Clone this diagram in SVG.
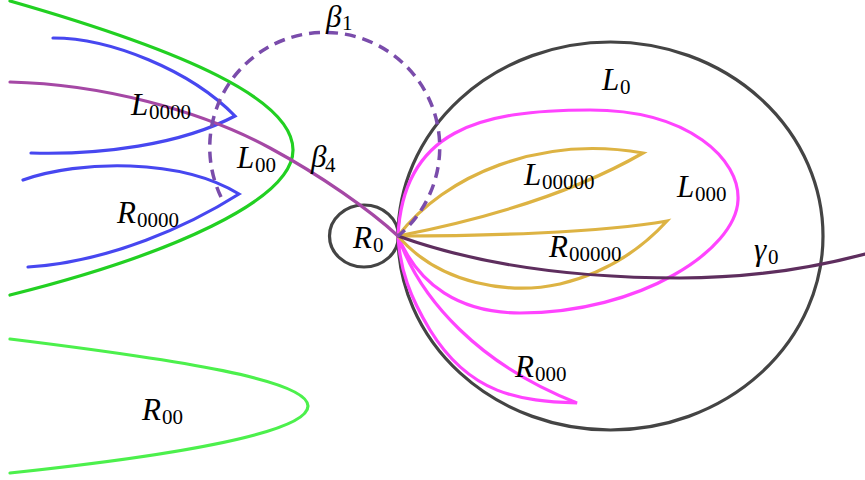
<svg xmlns="http://www.w3.org/2000/svg" width="865" height="480" viewBox="0 0 865 480">
<style>
.c{fill:none;stroke-width:3.2;stroke-linecap:round;stroke-linejoin:miter}
.blk{stroke:#444444}
.g1{stroke:#22d022}
.g2{stroke:#4cf04c}
.bl{stroke:#4747f0}
.pk{stroke:#ff44ff}
.yl{stroke:#ddb343}
.b4{stroke:#a548a5}
.g0{stroke:#5e2e5e}
.b1{stroke:#7a4cab;stroke-width:3.5;stroke-dasharray:11 7;stroke-linecap:butt}
.t{font-family:"Liberation Serif",serif;font-size:31px;font-style:italic;fill:#000}
.s{font-size:21px;font-style:normal}
</style>
<rect width="865" height="480" fill="#fff"/>
<g id="curves">
<path id="L00" class="c g1" d="M10,1 C188,52 293,100 293,150 C293,200 170,255 10,295"/>
<path id="R00" class="c g2" d="M10,339 C180,360 308,380 308,406 C308,432 180,455 10,473"/>
<path id="L0000" class="c bl" d="M53,38 C110,38 190,70 235,116 C180,145 100,155 31,153"/>
<path id="R0000" class="c bl" d="M23,180 C80,160 180,158 239,194 C190,225 110,262 28,267"/>
<ellipse id="L0" class="c blk" cx="610.5" cy="236" rx="212.5" ry="194"/>
<ellipse id="R0" class="c blk" cx="364" cy="236" rx="34.5" ry="31"/>
<path id="L000" class="c pk" d="M398,236 C403,130 480,110 590,110 C690,110 740,160 738,200 C736,250 640,313 520,313 C460,313 418,285 398,236"/>
<path id="R000" class="c pk" d="M398,236 C420,300 480,365 577,403 C520,401 470,395 430,330 C410,297 400,270 398,236"/>
<path id="L00000" class="c yl" d="M398,236 C445,175 540,135 643,153 C570,195 480,220 398,236"/>
<path id="R00000" class="c yl" d="M398,236 C480,236 600,233 667,221 C645,245 610,272 560,284 C510,295 440,285 398,236"/>
<path id="gamma0" class="c g0" d="M398,236 C470,262 560,278 680,278 C760,278 820,266 865,254"/>
<path id="beta4" class="c b4" d="M10,82 C100,84 200,110 270,148 C320,175 370,210 398,236"/>
<path id="beta1" class="c b1" d="M221,197 A115,115 0 1 1 398,236"/>
</g>
<g id="labels">
<text class="t" x="326" y="27">β<tspan class="s" x="342" y="30">1</tspan></text>
<text class="t" x="131" y="115">L<tspan class="s" x="149" y="119">0000</tspan></text>
<text class="t" x="237" y="168">L<tspan class="s" x="255" y="172">00</tspan></text>
<text class="t" x="311" y="167">β<tspan class="s" x="325" y="172">4</tspan></text>
<text class="t" x="117" y="223">R<tspan class="s" x="137" y="227">0000</tspan></text>
<text class="t" x="353" y="248">R<tspan class="s" x="373" y="252">0</tspan></text>
<text class="t" x="602" y="90">L<tspan class="s" x="620" y="94">0</tspan></text>
<text class="t" x="524" y="185">L<tspan class="s" x="542" y="189">00000</tspan></text>
<text class="t" x="549" y="257">R<tspan class="s" x="569" y="261">00000</tspan></text>
<text class="t" x="677" y="197">L<tspan class="s" x="695" y="201">000</tspan></text>
<text class="t" x="754" y="260">γ<tspan class="s" x="768" y="264">0</tspan></text>
<text class="t" x="515" y="377">R<tspan class="s" x="535" y="381">000</tspan></text>
<text class="t" x="142" y="420">R<tspan class="s" x="162" y="424">00</tspan></text>
</g>
</svg>
